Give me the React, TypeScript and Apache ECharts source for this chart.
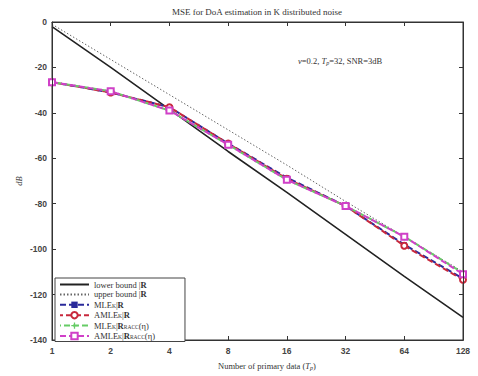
import React, { useEffect, useRef } from "react";
import * as echarts from "echarts";

const primaryData = [1, 2, 4, 8, 16, 32, 64, 128];
const lowerBound = [-2, -20, -38.5, -57, -75, -93.5, -112, -130];
const upperBound = [-1, -16.5, -32, -47.5, -63, -79, -94.5, -110];
const mleR = [-26.5, -31, -37.5, -53.5, -68.5, -81, -98, -113];
const amleR = [-26.5, -31, -37.5, -53.5, -69, -81, -98.5, -113.5];
const mleRacc = [-26.5, -30.5, -39, -54, -69.5, -81, -94.5, -110.5];
const amleRacc = [-26.5, -30.5, -39, -54, -69.5, -81, -94.5, -111];

const seriesNames = ["lower", "upper", "mleR", "amleR", "mleRacc", "amleRacc"];
const legendLabels: Record<string, string> = {
  lower: "lower bound |{b|R}",
  upper: "upper bound |{b|R}",
  mleR: "MLE{s|K}|{b|R}",
  amleR: "AMLE{s|K}|{b|R}",
  mleRacc: "MLE{s|K}|{b|R}{s|RACC}(η)",
  amleRacc: "AMLE{s|K}|{b|R}{s|RACC}(η)",
};

const SERIF = "'Liberation Serif', 'DejaVu Serif', serif";
const SANS = "'Liberation Sans', Arial, sans-serif";
const PLUS = "path://M4,0 L6,0 L6,4 L10,4 L10,6 L6,6 L6,10 L4,10 L4,6 L0,6 L0,4 L4,4 Z";

const pts = (ys: number[]) => primaryData.map((x, i) => [x, ys[i]]);

export default function App() {
  const ref = useRef<HTMLDivElement>(null);
  useEffect(() => {
    if (!ref.current) return;
    document.body.style.margin = "0";
    document.body.style.overflow = "hidden";
    const chart = echarts.init(ref.current, undefined, { renderer: "svg" });
    const dashed = [6, 3];
    const mkLine = () => ({ show: true, onZero: false, lineStyle: { color: "#333", width: 1 } });
    const mkTick = () => ({ show: true, inside: true, length: 4, lineStyle: { color: "#333" } });
    const tickLabel = () => ({
      fontFamily: SANS,
      fontSize: 8.5,
      fontWeight: "bold",
      color: "#444",
    });
    const sub = { fontFamily: SERIF, fontSize: 6, fontStyle: "italic", fill: "#333", padding: [4, 0, 0, 0] };
    const ital = { fontFamily: SERIF, fontSize: 8.5, fontStyle: "italic", fill: "#333" };
    const texts: any[] = [
      {
        id: "title",
        type: "text",
        x: 257,
        y: 12,
        style: {
          text: "MSE for DoA estimation in K distributed noise",
          fontFamily: SERIF,
          fontSize: 9,
          fill: "#333",
          align: "center",
          verticalAlign: "middle",
        },
      },
      {
        id: "note",
        type: "text",
        left: 298,
        top: 56,
        style: {
          text: "{i|ν}=0.2, {i|T}{s|p}=32, SNR=3dB",
          fontFamily: SERIF,
          fontSize: 8.5,
          fill: "#333",
          rich: { i: ital, s: sub },
        },
      },
      {
        id: "xname",
        type: "text",
        left: 218,
        top: 361,
        style: {
          text: "Number of primary data ({i|T}{s|p})",
          fontFamily: SERIF,
          fontSize: 8.5,
          fill: "#333",
          rich: { i: ital, s: sub },
        },
      },
      {
        id: "yname",
        type: "text",
        x: 19,
        y: 181,
        rotation: Math.PI / 2,
        style: {
          text: "dB",
          fontFamily: SERIF,
          fontSize: 8.5,
          fontStyle: "italic",
          fill: "#333",
          align: "center",
          verticalAlign: "middle",
        },
      },
    ];
    chart.setOption({
      animation: false,
      grid: { left: 52, right: 15, top: 22, bottom: 36, show: true, borderColor: "#333", borderWidth: 1 },
      xAxis: [
        {
          type: "log",
          logBase: 2,
          min: 1,
          max: 128,
          position: "bottom",
          axisLine: mkLine(),
          axisTick: mkTick(),
          splitLine: { show: false },
          axisLabel: { ...tickLabel(), margin: 6 },
        },
        {
          type: "log",
          logBase: 2,
          min: 1,
          max: 128,
          position: "top",
          axisLine: mkLine(),
          axisTick: mkTick(),
          splitLine: { show: false },
          axisLabel: { show: false },
        },
      ],
      yAxis: [
        {
          type: "value",
          min: -140,
          max: 0,
          interval: 20,
          position: "left",
          axisLine: mkLine(),
          axisTick: mkTick(),
          splitLine: { show: false },
          axisLabel: { ...tickLabel(), margin: 5 },
        },
        {
          type: "value",
          min: -140,
          max: 0,
          interval: 20,
          position: "right",
          axisLine: mkLine(),
          axisTick: mkTick(),
          splitLine: { show: false },
          axisLabel: { show: false },
        },
      ],
      legend: {
        data: seriesNames.map((n) =>
          n === "lower" || n === "upper" ? { name: n, itemStyle: { opacity: 0 } } : { name: n }
        ),
        orient: "vertical",
        left: 55,
        top: 278,
        itemWidth: 29,
        itemHeight: 8,
        itemGap: 0.9,
        padding: [2, 30, 1, 4],
        backgroundColor: "#fff",
        borderColor: "#444",
        borderWidth: 1,
        borderRadius: 0,
        formatter: (name: string) => legendLabels[name],
        textStyle: {
          fontFamily: SERIF,
          fontSize: 8.5,
          color: "#333",
          lineHeight: 8,
          rich: {
            b: { fontFamily: SERIF, fontSize: 8.5, fontWeight: "bold", color: "#333", lineHeight: 8 },
            s: { fontFamily: SERIF, fontSize: 5.5, color: "#333", lineHeight: 8, verticalAlign: "bottom", padding: [3, 0, 0, 0] },
          },
        },
      },
      graphic: texts,
      series: [
        {
          name: "lower",
          type: "line",
          data: pts(lowerBound),
          symbol: "none",
          lineStyle: { color: "#222", width: 1.6, type: "solid" },
          itemStyle: { color: "#222" },
        },
        {
          name: "upper",
          type: "line",
          xAxisIndex: 1,
          yAxisIndex: 1,
          data: pts(upperBound),
          symbol: "none",
          lineStyle: { color: "#666", width: 1, type: [1.5, 2] },
          itemStyle: { color: "#666" },
        },
        {
          name: "mleR",
          type: "line",
          data: pts(mleR),
          symbol: "rect",
          symbolSize: 5,
          lineStyle: { color: "#2a2a9a", width: 2, type: dashed },
          itemStyle: { color: "#2a2a9a" },
        },
        {
          name: "amleR",
          type: "line",
          data: pts(amleR),
          symbol: "emptyCircle",
          symbolSize: 6,
          lineStyle: { color: "#c8283c", width: 2, type: dashed, dashOffset: 3 },
          itemStyle: { color: "#c8283c", borderWidth: 1.5 },
        },
        {
          name: "mleRacc",
          type: "line",
          data: pts(mleRacc),
          symbol: PLUS,
          symbolSize: 7,
          lineStyle: { color: "#66cc66", width: 2, type: dashed, dashOffset: 5 },
          itemStyle: { color: "#66cc66" },
        },
        {
          name: "amleRacc",
          type: "line",
          data: pts(amleRacc),
          symbol: "emptyRect",
          symbolSize: 6,
          lineStyle: { color: "#d040c8", width: 2, type: dashed },
          itemStyle: { color: "#d040c8", borderWidth: 1.5 },
        },
      ],
    });
    const tl = chart.convertToPixel({ xAxisIndex: 0, yAxisIndex: 0 }, [1, 0]) as number[];
    const br = chart.convertToPixel({ xAxisIndex: 0, yAxisIndex: 0 }, [128, -140]) as number[];
    if (tl && br && isFinite(tl[0]) && isFinite(br[0])) {
      const x0 = Math.round(tl[0]) + 0.5;
      const y0 = Math.round(tl[1]) + 0.5;
      const x1 = Math.round(br[0]) + 0.5;
      const y1 = Math.round(br[1]) + 0.5;
      chart.setOption({
        graphic: [
          ...texts,
          {
            id: "frame",
            type: "polyline",
            silent: true,
            z: 100,
            shape: { points: [[x0, y1], [x0, y0], [x1, y0], [x1, y1]] },
            style: { stroke: "#333", lineWidth: 1, fill: "none" },
          },
        ],
      });
    }
    return () => chart.dispose();
  }, []);
  return <div ref={ref} style={{ width: 478, height: 376, background: "#fff" }} />;
}
